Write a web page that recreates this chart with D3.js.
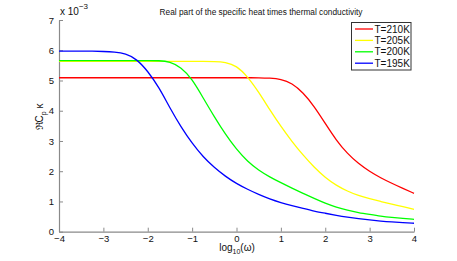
<!DOCTYPE html>
<html>
<head>
<meta charset="utf-8">
<script src="https://cdn.jsdelivr.net/npm/d3@7"></script>
<style>
  html, body { margin: 0; padding: 0; background: #fff; }
  svg { display: block; font-family: "Liberation Sans", Arial, sans-serif; }
</style>
</head>
<body>
<svg id="chart" width="457" height="261"></svg>
<script>
const logOmega = [-4, -3.75, -3.5, -3.25, -3, -2.75, -2.5, -2.25, -2, -1.75, -1.5, -1.25, -1, -0.75, -0.5, -0.25,
  0, 0.25, 0.5, 0.75, 1, 1.25, 1.5, 1.75, 2, 2.25, 2.5, 2.75, 3, 3.25, 3.5, 3.75, 4];

const seriesNames = ["T=210K", "T=205K", "T=200K", "T=195K"];
const seriesColors = ["#ff0000", "#ffff00", "#00ff00", "#0000ff"];

const t210 = [5.09, 5.09, 5.09, 5.09, 5.09, 5.09, 5.09, 5.09, 5.09, 5.09, 5.09, 5.09, 5.09, 5.09, 5.09, 5.09,
  5.09, 5.09, 5.09, 5.08, 5.05, 4.91, 4.60, 4.15, 3.58, 3.02, 2.58, 2.25, 1.99, 1.78, 1.60, 1.43, 1.27];
const t205 = [5.63, 5.63, 5.63, 5.63, 5.63, 5.63, 5.63, 5.63, 5.63, 5.63, 5.63, 5.63, 5.63, 5.63, 5.63, 5.61,
  5.49, 5.13, 4.62, 4.03, 3.48, 2.98, 2.53, 2.13, 1.79, 1.53, 1.34, 1.19, 1.09, 1.00, 0.91, 0.83, 0.74];
const t200 = [5.66, 5.66, 5.66, 5.66, 5.66, 5.66, 5.66, 5.66, 5.66, 5.66, 5.62, 5.44, 5.05, 4.42, 3.80, 3.22,
  2.72, 2.32, 2.03, 1.81, 1.62, 1.44, 1.27, 1.10, 0.94, 0.81, 0.71, 0.63, 0.57, 0.51, 0.47, 0.44, 0.41];
const t195 = [5.97, 5.97, 5.97, 5.97, 5.96, 5.94, 5.89, 5.71, 5.31, 4.78, 4.09, 3.46, 2.92, 2.47, 2.12, 1.83,
  1.59, 1.40, 1.23, 1.08, 0.96, 0.86, 0.77, 0.68, 0.61, 0.54, 0.48, 0.43, 0.39, 0.35, 0.32, 0.30, 0.28];

const xTicks = [-4, -3, -2, -1, 0, 1, 2, 3, 4];
const yTicks = [0, 1, 2, 3, 4, 5, 6, 7];

const svg = d3.select("#chart");
const pLeft = 59, pRight = 414, pTop = 20, pBottom = 231.7;
const x = d3.scaleLinear().domain([-4, 4]).range([pLeft, pRight]);
const y = d3.scaleLinear().domain([0, 7]).range([pBottom, pTop]);
const axisColor = "#8a8a8a";
const fmt = v => (v < 0 ? "\u2212" + Math.abs(v) : String(v));

// X axis
const gx = svg.append("g").attr("transform", `translate(0,${pBottom})`)
  .call(d3.axisBottom(x).tickValues(xTicks).tickSize(-4).tickPadding(4).tickFormat(fmt).tickSizeOuter(0));
// Y axis
const gy = svg.append("g").attr("transform", `translate(${pLeft},0)`)
  .call(d3.axisLeft(y).tickValues(yTicks).tickSize(-4).tickPadding(5).tickFormat(fmt).tickSizeOuter(0));

[gx, gy].forEach(g => {
  g.select(".domain").attr("stroke", axisColor).attr("stroke-width", 1.2);
  g.selectAll(".tick line").attr("stroke", axisColor).attr("stroke-width", 1);
  g.selectAll(".tick text").attr("fill", "#111").attr("font-size", 9.5)
    .attr("font-family", "Liberation Sans, Arial, sans-serif");
});

// Lines
const allSeries = [t210, t205, t200, t195];
const line = d3.line().x((d, i) => x(logOmega[i])).y(d => y(d)).curve(d3.curveBasis);
allSeries.forEach((s, k) => {
  svg.append("path").datum(s).attr("d", line)
    .attr("fill", "none").attr("stroke", seriesColors[k]).attr("stroke-width", 1.3);
});

// Exponent label
const ex = svg.append("text").attr("x", 60).attr("y", 15).attr("font-size", 10).attr("fill", "#111");
ex.append("tspan").text("x 10");
ex.append("tspan").attr("dy", -6).attr("font-size", 8).text("\u22123");

// Title
svg.append("text").attr("x", 261).attr("y", 15).attr("text-anchor", "middle")
  .attr("font-size", 8.3).attr("fill", "#111")
  .text("Real part of the specific heat times thermal conductivity");

// X label
const xl = svg.append("text").attr("x", 237).attr("y", 250.5).attr("text-anchor", "middle")
  .attr("font-size", 10).attr("fill", "#111");
xl.append("tspan").text("log");
xl.append("tspan").attr("dy", 3).attr("font-size", 7).text("10");
xl.append("tspan").attr("dy", -3).text("(\u03c9)");

// Y label
const yl = svg.append("text").attr("transform", "translate(43,117) rotate(-90)")
  .attr("text-anchor", "middle").attr("font-size", 10).attr("fill", "#111");
yl.append("tspan").text("\u211cC");
yl.append("tspan").attr("dy", 3).attr("font-size", 7).text("p");
yl.append("tspan").attr("dy", -3).text(" \u03ba");

// Legend
const lg = svg.append("g");
lg.append("rect").attr("x", 351.5).attr("y", 22.5).attr("width", 59.5).attr("height", 47.5)
  .attr("fill", "#fff").attr("stroke", "#333").attr("stroke-width", 1);
seriesNames.forEach((nm, k) => {
  const yy = 29 + k * 11.4;
  lg.append("line").attr("x1", 355).attr("x2", 373).attr("y1", yy).attr("y2", yy)
    .attr("stroke", seriesColors[k]).attr("stroke-width", 1.3);
  lg.append("text").attr("x", 374.5).attr("y", yy + 3.6).attr("font-size", 10).attr("fill", "#111").text(nm);
});
</script>
</body>
</html>
